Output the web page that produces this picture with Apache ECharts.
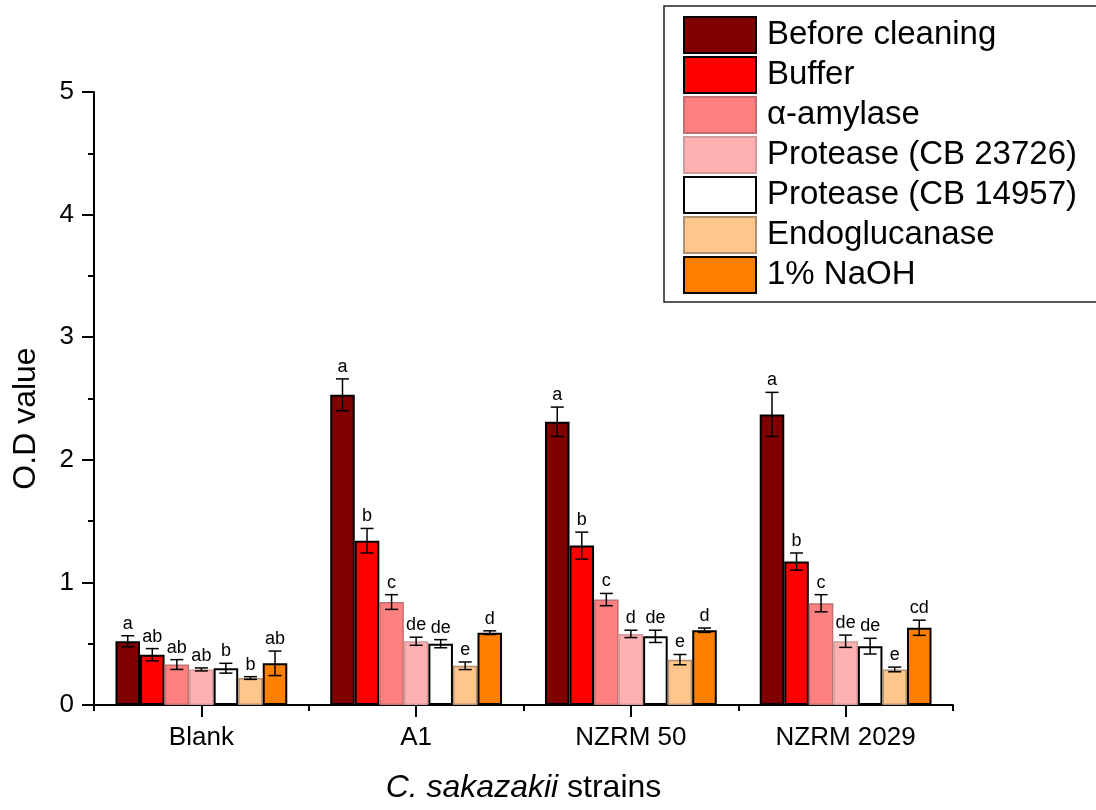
<!DOCTYPE html>
<html>
<head>
<meta charset="utf-8">
<title>O.D value of C. sakazakii strains after cleaning treatments</title>
<script src="https://cdn.jsdelivr.net/npm/echarts@6/dist/echarts.min.js"></script>
<style>
  html, body { margin: 0; padding: 0; background: #ffffff; }
  #chart { width: 1096px; height: 810px; }
</style>
</head>
<body>
<div id="chart"></div>
<script>
// Strains on the x axis
const strains = ['Blank', 'A1', 'NZRM 50', 'NZRM 2029'];

// Cleaning treatments (legend order)
const treatments = ['Before cleaning', 'Buffer', 'α-amylase', 'Protease (CB 23726)',
                    'Protease (CB 14957)', 'Endoglucanase', '1% NaOH'];

// Mean O.D values per treatment, one value per strain
const beforeCleaning = [0.52, 2.53, 2.31, 2.37];
const buffer         = [0.41, 1.34, 1.30, 1.17];
const amylase        = [0.33, 0.84, 0.86, 0.83];
const protease23726  = [0.29, 0.52, 0.58, 0.52];
const protease14957  = [0.30, 0.50, 0.56, 0.48];
const endoglucanase  = [0.22, 0.32, 0.37, 0.29];
const naoh           = [0.34, 0.59, 0.61, 0.63];

// Standard deviations (error bar half-lengths)
const beforeCleaningErr = [0.045, 0.13, 0.12, 0.18];
const bufferErr         = [0.05, 0.10, 0.11, 0.07];
const amylaseErr        = [0.04, 0.06, 0.05, 0.07];
const protease23726Err  = [0.012, 0.033, 0.03, 0.05];
const protease14957Err  = [0.04, 0.033, 0.05, 0.064];
const endoglucanaseErr  = [0.011, 0.031, 0.042, 0.019];
const naohErr           = [0.10, 0.015, 0.018, 0.062];

// Significance letters
const beforeCleaningSig = ['a', 'a', 'a', 'a'];
const bufferSig         = ['ab', 'b', 'b', 'b'];
const amylaseSig        = ['ab', 'c', 'c', 'c'];
const protease23726Sig  = ['ab', 'de', 'd', 'de'];
const protease14957Sig  = ['b', 'de', 'de', 'de'];
const endoglucanaseSig  = ['b', 'e', 'e', 'e'];
const naohSig           = ['ab', 'd', 'd', 'cd'];

// Y axis tick values
const yTicks = [0, 1, 2, 3, 4, 5];

const values  = [beforeCleaning, buffer, amylase, protease23726, protease14957, endoglucanase, naoh];
const errors  = [beforeCleaningErr, bufferErr, amylaseErr, protease23726Err, protease14957Err, endoglucanaseErr, naohErr];
const letters = [beforeCleaningSig, bufferSig, amylaseSig, protease23726Sig, protease14957Sig, endoglucanaseSig, naohSig];

const fills   = ['#800000', '#ff0000', '#ff8080', '#ffb0b0', '#ffffff', '#ffc68c', '#ff8000'];
const borders = ['#000000', '#000000', '#c07070', '#d09a9a', '#000000', '#b09070', '#000000'];
const borderWidths = [2, 2, 1.5, 1.5, 2, 1.5, 2];

const FONT = "'Liberation Sans', Arial, sans-serif";
const nSeries = treatments.length;
const groupFill = 0.8; // share of each category band covered by bars

// Bars
const barSeries = treatments.map((name, s) => ({
  name: name,
  type: 'bar',
  xAxisIndex: 0,
  barGap: '0%',
  barCategoryGap: '20%',
  data: values[s],
  itemStyle: { color: fills[s], borderColor: borders[s], borderWidth: borderWidths[s] },
  emphasis: { disabled: true },
  z: 2
}));

// Error bars + letters, one row per bar
const errData = [];
const errLetters = [];
for (let s = 0; s < nSeries; s++) {
  for (let g = 0; g < strains.length; g++) {
    errData.push([g, s, values[s][g], errors[s][g]]);
    errLetters.push(letters[s][g]);
  }
}

const errorSeries = {
  type: 'custom',
  xAxisIndex: 0,
  z: 5,
  silent: true,
  encode: { x: 0, y: 2 },
  data: errData,
  renderItem: function (params, api) {
    const g = api.value(0), s = api.value(1), v = api.value(2), e = api.value(3);
    const center = api.coord([g, 0]);
    const band = api.size([1, 0])[0];
    const bw = band * groupFill / nSeries;
    const x = center[0] + (s - (nSeries - 1) / 2) * bw;
    const top = api.coord([g, v + e])[1];
    const bot = api.coord([g, v - e])[1];
    const cap = 6.5;
    const st = { stroke: '#000', lineWidth: 1.5 };
    return {
      type: 'group',
      children: [
        { type: 'line', shape: { x1: x, y1: top, x2: x, y2: bot }, style: st },
        { type: 'line', shape: { x1: x - cap, y1: top, x2: x + cap, y2: top }, style: st },
        { type: 'line', shape: { x1: x - cap, y1: bot, x2: x + cap, y2: bot }, style: st },
        { type: 'text', style: {
            text: errLetters[params.dataIndex], x: x, y: top - 3,
            align: 'center', verticalAlign: 'bottom',
            fontSize: 18, fontFamily: FONT, fill: '#000' } }
      ]
    };
  }
};

const chart = echarts.init(document.getElementById('chart'), null, { renderer: 'canvas' });

chart.setOption({
  backgroundColor: '#ffffff',
  animation: false,
  textStyle: { fontFamily: FONT },
  grid: { left: 94, right: 143, top: 92, bottom: 105, containLabel: false },
  // Legend frame: top, left and bottom edges; it runs off the right side of the canvas
  graphic: [{
    type: 'polyline',
    z: 0,
    silent: true,
    shape: { points: [[1120, 6], [664, 6], [664, 302], [1120, 302]] },
    style: { fill: null, stroke: '#222', lineWidth: 1.5 }
  }],
  legend: {
    data: treatments,
    orient: 'vertical',
    left: 664,
    top: 6,
    padding: [10, 20, 8, 19],
    itemWidth: 72,
    itemHeight: 36,
    itemGap: 2,
    icon: 'rect',
    borderWidth: 0,
    backgroundColor: 'transparent',
    selectedMode: false,
    z: 10,
    textStyle: { fontSize: 33, color: '#000', fontFamily: FONT, padding: [0, 0, 0, 6], lineHeight: 36 }
  },
  xAxis: [
    {
      type: 'category',
      data: strains,
      boundaryGap: true,
      axisLine: { show: true, lineStyle: { color: '#000', width: 2 } },
      axisTick: { show: true, inside: false, length: 6, lineStyle: { color: '#000', width: 2 } },
      axisLabel: { show: true, fontSize: 26, color: '#000', margin: 20, fontFamily: FONT },
      splitLine: { show: false },
      name: '{i|C. sakazakii} strains',
      nameLocation: 'middle',
      nameGap: 67,
      nameTextStyle: {
        fontSize: 32, color: '#000', fontFamily: FONT,
        rich: { i: { fontSize: 32, fontStyle: 'italic', color: '#000', fontFamily: FONT } }
      }
    },
    {
      type: 'category',
      data: strains,
      boundaryGap: true,
      position: 'bottom',
      axisLine: { show: false },
      axisTick: { show: true, alignWithLabel: true, length: 12, lineStyle: { color: '#000', width: 2 } },
      axisLabel: { show: false },
      splitLine: { show: false }
    }
  ],
  yAxis: {
    type: 'value',
    min: yTicks[0],
    max: yTicks[yTicks.length - 1],
    interval: 1,
    axisLine: { show: true, lineStyle: { color: '#000', width: 2 } },
    axisTick: { show: true, length: 12, lineStyle: { color: '#000', width: 2 } },
    minorTick: { show: true, splitNumber: 2, length: 6, lineStyle: { color: '#000', width: 2 } },
    axisLabel: { fontSize: 26, color: '#000', margin: 20, fontFamily: FONT },
    splitLine: { show: false },
    minorSplitLine: { show: false },
    name: 'O.D value',
    nameLocation: 'middle',
    nameRotate: 90,
    nameGap: 52,
    nameTextStyle: { fontSize: 32, color: '#000', fontFamily: FONT, padding: [0, 40, 0, 0] }
  },
  series: barSeries.concat([errorSeries])
});
</script>
</body>
</html>
